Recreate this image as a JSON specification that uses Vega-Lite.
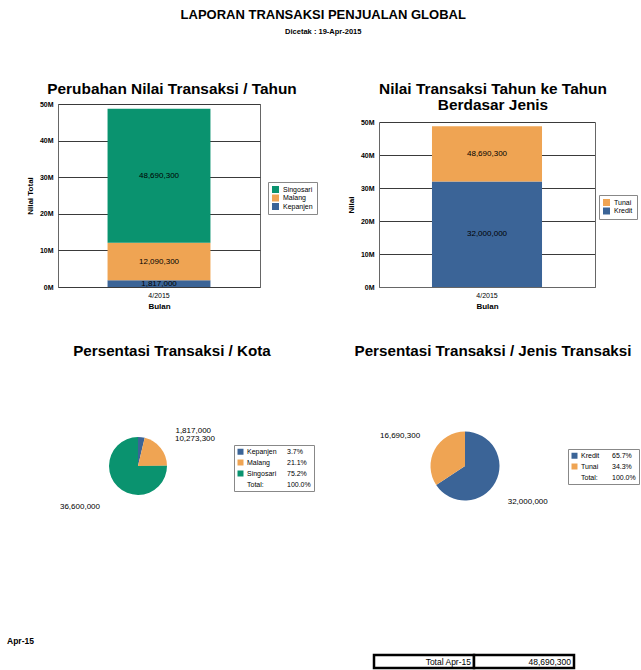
{
  "$schema": "https://vega.github.io/schema/vega-lite/v6.json",
  "padding": {"left": 7, "top": 8, "right": 2, "bottom": 2},
  "config": {
    "font": "Liberation Sans",
    "view": {"stroke": null},
    "title": {"font": "Liberation Sans", "fontWeight": "bold", "color": "black"},
    "axis": {"labelFont": "Liberation Sans", "labelFontSize": 7, "labelFontWeight": "bold", "labelColor": "black", "labelOverlap": false, "titleFont": "Liberation Sans", "titleFontSize": 8, "titleFontWeight": "bold", "titleColor": "black", "ticks": false, "gridColor": "#3a3a3a", "domainColor": "#666", "labelPadding": 5},
    "legend": {"symbolType": "square", "labelFont": "Liberation Sans", "labelFontSize": 7, "labelColor": "black", "symbolStrokeWidth": 0, "strokeColor": "#888", "fillColor": "white", "padding": 4, "rowPadding": 2, "labelOffset": 4, "symbolSize": 49}
  },
  "title": {"text": "LAPORAN TRANSAKSI PENJUALAN GLOBAL", "subtitle": "Dicetak : 19-Apr-2015", "fontSize": 13, "subtitleFontSize": 7.5, "subtitleFontWeight": "bold", "subtitleColor": "black", "subtitleFont": "Liberation Sans", "subtitlePadding": 6, "anchor": "middle", "offset": 46},
  "bounds": "flush",
  "spacing": 262,
  "resolve": {"scale": {"color": "independent"}, "legend": {"color": "independent"}},
  "vconcat": [
    {
      "bounds": "flush",
      "spacing": 119,
      "resolve": {"scale": {"color": "independent"}, "legend": {"color": "independent"}},
      "hconcat": [
        {
          "title": {"text": "Perubahan Nilai Transaksi / Tahun", "fontSize": 15.4, "offset": 3, "dx": 13},
          "width": 202,
          "height": 183,
          "view": {"stroke": "#666"},
          "data": {"values": [
            {"bulan": "4/2015", "kota": "Kepanjen", "nilai": 1817000},
            {"bulan": "4/2015", "kota": "Malang", "nilai": 10273300},
            {"bulan": "4/2015", "kota": "Singosari", "nilai": 36600000}
          ]},
          "transform": [{"stack": "nilai", "groupby": ["bulan"], "sort": [{"field": "kota", "order": "ascending"}], "as": ["v0", "v1"]}],
          "layer": [
            {
              "mark": {"type": "bar"},
              "encoding": {
                "x": {"field": "bulan", "type": "nominal", "scale": {"paddingInner": 0.325, "paddingOuter": 0.325}, "axis": {"title": "Bulan", "labelAngle": 0, "labelFontWeight": "normal", "domain": false, "labelPadding": 4, "titlePadding": 4}},
                "y": {"field": "v0", "type": "quantitative", "scale": {"domain": [0, 50000000]}, "axis": {"title": "Nilai Total", "values": [0, 10000000, 20000000, 30000000, 40000000, 50000000], "tickCount": 6, "labelExpr": "datum.value / 1000000 + 'M'", "domain": false, "titlePadding": 5}},
                "y2": {"field": "v1"},
                "color": {"field": "kota", "type": "nominal", "scale": {"domain": ["Singosari", "Malang", "Kepanjen"], "range": ["#0a936f", "#efa453", "#3b6497"]}, "legend": {"title": null, "orient": "none", "legendX": 210, "legendY": 78, "rowPadding": 0.5}}
              }
            },
            {
              "transform": [{"fold": ["v0", "v1"], "as": ["ujung", "posisi"]}, {"aggregate": [{"op": "mean", "field": "posisi", "as": "tengah"}], "groupby": ["bulan", "kota", "v1"]}],
              "mark": {"type": "text", "fontSize": 8, "color": "black", "baseline": "middle"},
              "encoding": {
                "x": {"field": "bulan", "type": "nominal"},
                "y": {"field": "tengah", "type": "quantitative", "axis": {"title": "Nilai Total", "values": [0, 10000000, 20000000, 30000000, 40000000, 50000000], "tickCount": 6, "labelExpr": "datum.value / 1000000 + 'M'", "domain": false, "titlePadding": 5}},
                "text": {"field": "v1", "type": "quantitative", "format": ",d"}
              }
            }
          ]
        },
        {
          "title": {"text": ["Nilai Transaksi Tahun ke Tahun", "Berdasar Jenis"], "fontSize": 15.4, "lineHeight": 16, "offset": 0, "dy": 9, "dx": 6},
          "width": 216,
          "height": 183,
          "data": {"values": [
            {"bulan": "4/2015", "jenis": "Kredit", "nilai": 32000000},
            {"bulan": "4/2015", "jenis": "Tunai", "nilai": 16690300}
          ]},
          "transform": [{"stack": "nilai", "groupby": ["bulan"], "sort": [{"field": "jenis", "order": "ascending"}], "as": ["v0", "v1"]}],
          "resolve": {"scale": {"y": "independent"}, "axis": {"y": "independent"}},
          "layer": [
            {
              "mark": {"type": "bar"},
              "encoding": {
                "x": {"field": "bulan", "type": "nominal", "scale": {"paddingInner": 0.325, "paddingOuter": 0.325}, "axis": {"title": "Bulan", "labelAngle": 0, "labelFontWeight": "normal", "domain": true, "labelPadding": 4, "titlePadding": 4}},
                "y": {"field": "v0", "type": "quantitative", "scale": {"domain": [0, 50000000], "range": [183, 18]}, "axis": {"title": "Nilai", "values": [0, 10000000, 20000000, 30000000, 40000000, 50000000], "labelExpr": "datum.value / 1000000 + 'M'", "domain": true, "titlePadding": 5}},
                "y2": {"field": "v1"},
                "color": {"field": "jenis", "type": "nominal", "scale": {"domain": ["Tunai", "Kredit"], "range": ["#efa453", "#3b6497"]}, "legend": {"title": null, "orient": "none", "legendX": 220, "legendY": 91, "rowPadding": 0.5}}
              }
            },
            {
              "transform": [{"fold": ["v0", "v1"], "as": ["ujung", "posisi"]}, {"aggregate": [{"op": "mean", "field": "posisi", "as": "tengah"}], "groupby": ["bulan", "jenis", "v1"]}],
              "mark": {"type": "text", "fontSize": 8, "color": "black", "baseline": "middle"},
              "encoding": {
                "x": {"field": "bulan", "type": "nominal"},
                "y": {"field": "tengah", "type": "quantitative", "scale": {"domain": [0, 50000000], "range": [183, 18]}, "axis": {"orient": "right", "title": null, "labels": false, "grid": false, "domain": true, "values": [0]}},
                "text": {"field": "v1", "type": "quantitative", "format": ",d"}
              }
            }
          ]
        }
      ]
    },
    {
      "bounds": "flush",
      "spacing": 152,
      "resolve": {"scale": {"color": "independent"}, "legend": {"color": "independent"}},
      "hconcat": [
        {
          "title": {"text": "Persentasi Transaksi / Kota", "fontSize": 15.2, "frame": "group", "dx": 34, "offset": 7},
          "width": 160,
          "height": 200,
          "data": {"values": [
            {"kota": "Kepanjen", "nilai": 1817000},
            {"kota": "Malang", "nilai": 10273300},
            {"kota": "Singosari", "nilai": 36600000}
          ]},
          "layer": [
            {
              "mark": {"type": "arc", "outerRadius": 29},
              "encoding": {
                "theta": {"field": "nilai", "type": "quantitative", "stack": true},
                "order": {"field": "kota", "sort": "ascending"},
                "color": {"field": "kota", "type": "nominal", "scale": {"domain": ["Kepanjen", "Malang", "Singosari", "Total:", "\u2007\u20073.7%", "\u200721.1%", "\u200775.2%", "100.0%"], "range": ["#3b6497", "#efa453", "#0a936f", "#ffffff", "#ffffff", "#ffffff", "#ffffff", "#ffffff"]}, "legend": {"title": null, "orient": "none", "legendX": 176, "legendY": 79, "columns": 2, "columnPadding": 0, "symbolSize": 36, "labelOffset": 3, "padding": 3, "rowPadding": 3}}
              }
            },
            {
              "mark": {"type": "text", "radius": 38, "align": "left", "baseline": "middle", "dx": 33, "dy": 3, "fontSize": 8},
              "encoding": {
                "theta": {"field": "nilai", "type": "quantitative", "stack": true},
                "order": {"field": "kota", "sort": "ascending"},
                "detail": {"field": "kota"},
                "text": {"condition": {"test": "datum.kota === 'Kepanjen'", "field": "nilai", "type": "quantitative", "format": ",d"}, "value": ""}
              }
            },
            {
              "mark": {"type": "text", "radius": 46, "align": "left", "baseline": "middle", "dx": 1, "dy": 2, "fontSize": 8},
              "encoding": {
                "theta": {"field": "nilai", "type": "quantitative", "stack": true},
                "order": {"field": "kota", "sort": "ascending"},
                "detail": {"field": "kota"},
                "text": {"condition": {"test": "datum.kota === 'Malang'", "field": "nilai", "type": "quantitative", "format": ",d"}, "value": ""}
              }
            },
            {
              "mark": {"type": "text", "radius": 54, "align": "right", "baseline": "middle", "dy": 3, "fontSize": 8},
              "encoding": {
                "theta": {"field": "nilai", "type": "quantitative", "stack": true},
                "order": {"field": "kota", "sort": "ascending"},
                "detail": {"field": "kota"},
                "text": {"condition": {"test": "datum.kota === 'Singosari'", "field": "nilai", "type": "quantitative", "format": ",d"}, "value": ""}
              }
            }
          ]
        },
        {
          "title": {"text": "Persentasi Transaksi / Jenis Transaksi", "fontSize": 15.2, "frame": "group", "dx": 28, "offset": 7},
          "width": 190,
          "height": 200,
          "data": {"values": [
            {"jenis": "Kredit", "nilai": 32000000},
            {"jenis": "Tunai", "nilai": 16690300}
          ]},
          "layer": [
            {
              "mark": {"type": "arc", "outerRadius": 34.5},
              "encoding": {
                "theta": {"field": "nilai", "type": "quantitative", "stack": true},
                "order": {"field": "jenis", "sort": "ascending"},
                "color": {"field": "jenis", "type": "nominal", "scale": {"domain": ["Kredit", "Tunai", "Total:", "\u200765.7%", "\u200734.3%", "100.0%"], "range": ["#3b6497", "#efa453", "#ffffff", "#ffffff", "#ffffff", "#ffffff"]}, "legend": {"title": null, "orient": "none", "legendX": 198, "legendY": 83, "columns": 2, "columnPadding": 2, "symbolSize": 36, "labelOffset": 3, "padding": 3, "rowPadding": 3}}
              }
            },
            {
              "mark": {"type": "text", "radius": 48.5, "align": "left", "baseline": "middle", "dy": 13.5, "fontSize": 8},
              "encoding": {
                "theta": {"field": "nilai", "type": "quantitative", "stack": true},
                "order": {"field": "jenis", "sort": "ascending"},
                "detail": {"field": "jenis"},
                "text": {"condition": {"test": "datum.jenis === 'Kredit'", "field": "nilai", "type": "quantitative", "format": ",d"}, "value": ""}
              }
            },
            {
              "mark": {"type": "text", "radius": 51, "align": "right", "baseline": "middle", "dy": -6, "fontSize": 8},
              "encoding": {
                "theta": {"field": "nilai", "type": "quantitative", "stack": true},
                "order": {"field": "jenis", "sort": "ascending"},
                "detail": {"field": "jenis"},
                "text": {"condition": {"test": "datum.jenis === 'Tunai'", "field": "nilai", "type": "quantitative", "format": ",d"}, "value": ""}
              }
            }
          ]
        }
      ]
    },
    {
      "title": {"text": "Apr-15", "anchor": "start", "frame": "group", "dx": -51, "fontSize": 8.5, "offset": -17},
      "width": 516,
      "height": 40,
      "data": {"values": [
        {"baris": "Total", "kolom": "A", "teks": "Total Apr-15"},
        {"baris": "Total", "kolom": "B", "teks": "48,690,300"}
      ]},
      "layer": [
        {
          "mark": {"type": "rect", "fill": "white", "stroke": "black", "strokeWidth": 2.5},
          "encoding": {
            "x": {"field": "kolom", "type": "nominal", "scale": {"range": [316, 516], "paddingInner": 0, "paddingOuter": 0}, "axis": null},
            "y": {"field": "baris", "type": "nominal", "scale": {"range": [27, 40], "paddingInner": 0, "paddingOuter": 0}, "axis": null}
          }
        },
        {
          "mark": {"type": "text", "align": "right", "baseline": "middle", "dx": -3, "fontSize": 8.5, "color": "black"},
          "encoding": {
            "x": {"field": "kolom", "type": "nominal", "bandPosition": 1},
            "y": {"field": "baris", "type": "nominal"},
            "text": {"field": "teks"}
          }
        }
      ]
    }
  ]
}
